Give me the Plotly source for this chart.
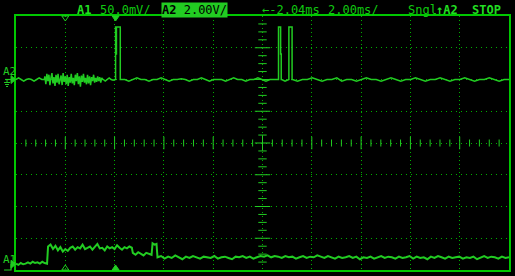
import numpy as np
import plotly.graph_objects as go

# ---------------- scope settings ----------------
TIME_PER_DIV = 2.0          # ms / div
A2_V_PER_DIV = 2.0          # V / div
A1_MV_PER_DIV = 50.0        # mV / div
A2_GROUND_DIV = 2.0
A1_GROUND_DIV = -3.82
N_XDIV, N_YDIV = 10, 8

header_a1 = ["A1", "50.0mV/"]
header_a2 = ["A2", "2.00V/"]
header_time = ["←-2.04ms", "2.00ms/"]
header_state = ["Sngl", "↑A2", "STOP"]
trig_time = -5.96           # ms (filled markers)
cursor_time = -8.0          # ms (hollow markers)

# ---------------- channel A2 (volts) ----------------
a2_pre_span = (-10.0, -8.85)
a2_pre_v = [0, 0.1, 0, -0.1, 0, 0.05, 0, -0.1, 0, 0.1, 0, 0]
a2_burst_span = (-8.83, -6.48)
a2_burst_v = [0.2, -0.3, 0.35, -0.1, 0.3, -0.35, 0.1, 0.4, -0.25, 0.15, -0.4, 0.3,
              -0.2, 0.35, -0.3, 0.05, 0.25, -0.35, 0.4, -0.15, 0.2, -0.3, 0.3, -0.4,
              0.15, -0.2, 0.35, -0.25, 0.1, -0.35, 0.3, -0.1, 0.4, -0.3, 0.2, -0.45,
              0.25, -0.15, 0.35, -0.2, 0.1, -0.3, 0.3, -0.25, 0.2, -0.35, 0.15, -0.1,
              0.3, -0.2, 0.1, -0.15, 0.2, -0.1, 0.15, -0.2, 0.1, 0]
a2_mid_span = (-6.46, -5.98)
a2_mid_v = [0, -0.1, 0, 0.1, 0, -0.05, 0]
a2_p1_t = [-5.96, -5.96, -5.935, -5.935, -5.925, -5.925, -5.77, -5.77]
a2_p1_v = [0, 3.3, 3.3, 1.6, 1.6, 3.3, 3.3, 0]
a2_gap1_span = (-5.75, 0.63)
a2_gap1_v = [0, 0, -0.1, 0, 0.1, 0, 0, -0.1, 0, 0, 0.1, 0, -0.1, 0, 0, 0.05, 0, -0.1,
             0, 0, 0.1, 0, -0.1, 0, 0, 0, -0.1, 0, 0.1, 0, 0, -0.1, 0, 0, 0.1, 0,
             -0.1, 0, 0, 0]
a2_p2_t = [0.65, 0.65, 0.735, 0.735, 0.76, 0.76]
a2_p2_v = [0, 3.3, 3.3, 1.6, 1.6, 0]
a2_gap2_span = (0.78, 1.05)
a2_gap2_v = [0, -0.1, 0]
a2_p3_t = [1.07, 1.07, 1.20, 1.20]
a2_p3_v = [0, 3.3, 3.3, 0]
a2_tail_span = (1.22, 10.0)
a2_tail_v = [0, -0.1, 0, 0, 0.1, 0, -0.1, 0, 0, 0.1, -0.1, 0, 0, -0.1, 0, 0.1, 0, 0,
             -0.1, 0, 0.1, 0, -0.1, 0, 0, 0.1, 0, -0.1, 0, 0, 0.1, 0, -0.1, 0, 0, 0.1,
             0, -0.1, 0, 0, 0.1, 0, -0.1, 0, 0]

# ---------------- channel A1 (mV) ----------------
a1_seg_spans = [(-10.0, -8.74), (-8.70, -5.30), (-5.26, -4.50), (-4.46, -4.30), (-4.26, 10.0)]
a1_seg1 = [1, -1, 2, 0, 1, 3, 1, 4, 2, 3, 1, 4, 2, 1]
a1_seg2 = [28, 31, 24, 29, 22, 27, 20, 24, 21, 26, 28, 23, 27, 25, 31, 24, 26, 28,
           23, 27, 32, 25, 26, 22, 28, 25, 27, 24, 30, 26, 23, 27, 25, 28, 26]
a1_seg3 = [18, 15, 19, 16, 14, 18, 17, 15]
a1_seg4 = [33, 31, 32]
a1_seg5 = [11, 13, 9, 12, 10, 14, 11, 8, 12, 10, 13, 11, 9, 12, 11, 10, 13, 9, 11, 12,
           10, 8, 12, 11, 13, 10, 12, 9, 11, 13, 12, 14, 11, 13, 12, 10, 13, 11, 12, 9,
           11, 13, 10, 12, 11, 14, 12, 10, 13, 11, 9, 12, 10, 11, 13, 10, 12, 8, 11, 10,
           12, 9, 11, 13, 10, 12, 11, 9, 12, 10, 11, 13, 9, 12, 10, 11, 8, 12, 10, 13,
           11, 9, 12, 10, 11, 12, 9, 11, 10, 12, 8, 11, 13, 10, 12, 11, 9, 12, 10, 11]
a1_segs = [a1_seg1, a1_seg2, a1_seg3, a1_seg4, a1_seg5]

# ---------------- colours ----------------
TRACE = "#22cc22"
FRAME = "#00c800"
GRID = "#00b000"
TEXT = "#10c810"
BRIGHT = "#22dd22"
FONT = "DejaVu Sans Mono"

W, H = 515, 276
ML, MR, MT, MB = 16, 4, 16, 6
PW, PH = W - ML - MR, H - MT - MB


def span_t(span, vals):
    return list(np.linspace(span[0], span[1], len(vals)))


# assemble A2
a2_t, a2_v = [], []
for t, v in [(span_t(a2_pre_span, a2_pre_v), a2_pre_v),
             (span_t(a2_burst_span, a2_burst_v), a2_burst_v),
             (span_t(a2_mid_span, a2_mid_v), a2_mid_v),
             (a2_p1_t, a2_p1_v),
             (span_t(a2_gap1_span, a2_gap1_v), a2_gap1_v),
             (a2_p2_t, a2_p2_v),
             (span_t(a2_gap2_span, a2_gap2_v), a2_gap2_v),
             (a2_p3_t, a2_p3_v),
             (span_t(a2_tail_span, a2_tail_v), a2_tail_v)]:
    a2_t += list(t)
    a2_v += list(v)
a2_y = [A2_GROUND_DIV + v / A2_V_PER_DIV for v in a2_v]

a1_t, a1_v = [], []
for span, vals in zip(a1_seg_spans, a1_segs):
    a1_t += span_t(span, vals)
    a1_v += vals
a1_y = [A1_GROUND_DIV + v / A1_MV_PER_DIV for v in a1_v]

XR = [-N_XDIV / 2 * TIME_PER_DIV, N_XDIV / 2 * TIME_PER_DIV]
YR = [-N_YDIV / 2, N_YDIV / 2]

fig = go.Figure()

# centre-axis tick marks
minor_x = [k * TIME_PER_DIV / 5 for k in range(-25, 26) if k % 5 != 0]
major_x = [k * TIME_PER_DIV for k in range(-4, 5) if k != 0]
minor_y = [k / 4 for k in range(-16, 17) if k % 4 != 0]
major_y = [k for k in range(-3, 4) if k != 0]
tick_style = dict(mode="markers", hoverinfo="skip", showlegend=False)


def tick_marker(symbol, size):
    return dict(symbol=symbol, size=size, color=TRACE, line=dict(color=TRACE, width=1))


fig.add_trace(go.Scatter(x=minor_x, y=[0] * len(minor_x), marker=tick_marker("line-ns-open", 5), **tick_style))
fig.add_trace(go.Scatter(x=major_x, y=[0] * len(major_x), marker=tick_marker("line-ns-open", 9), **tick_style))
fig.add_trace(go.Scatter(x=[0] * len(minor_y), y=minor_y, marker=tick_marker("line-ew-open", 6), **tick_style))
fig.add_trace(go.Scatter(x=[0] * len(major_y), y=major_y, marker=tick_marker("line-ew-open", 11), **tick_style))
fig.add_trace(go.Scatter(x=[0], y=[0], marker=tick_marker("cross-thin-open", 11), **tick_style))

fig.add_trace(go.Scatter(x=a2_t, y=a2_y, mode="lines", line=dict(color=TRACE, width=1.5),
                         hoverinfo="skip", showlegend=False, name="A2"))
fig.add_trace(go.Scatter(x=a1_t, y=a1_y, mode="lines", line=dict(color=TRACE, width=2),
                         hoverinfo="skip", showlegend=False, name="A1"))


def px2paper_x(px):
    return (px - ML) / PW


def py2paper_y(py):
    return (H - MB - py) / PH


def t2px(t):
    return ML + (t - XR[0]) / (XR[1] - XR[0]) * PW


def div2py(d):
    return MT + (YR[1] - d) / (YR[1] - YR[0]) * PH


def path(points, close=False):
    s = "M " + " L ".join(f"{px2paper_x(x):.5f},{py2paper_y(y):.5f}" for x, y in points)
    return s + (" Z" if close else "")


shapes = []
# trigger / cursor markers on top and bottom frame
top, bot = MT, H - MB
for t, filled in [(cursor_time, False), (trig_time, True)]:
    x = t2px(t)
    for pts in ([(x - 3.5, top), (x + 3.5, top), (x, top + 5)],
                [(x - 3.5, bot), (x + 3.5, bot), (x, bot - 5)]):
        shapes.append(dict(type="path", xref="paper", yref="paper", path=path(pts, True),
                           line=dict(color=TRACE, width=1),
                           fillcolor=TRACE if filled else "rgba(0,0,0,0)"))

# channel ground markers on the left
ya2 = div2py(A2_GROUND_DIV)
shapes.append(dict(type="path", xref="paper", yref="paper", path=path([(5, ya2), (12, ya2)]), line=dict(color=TRACE, width=1.2)))
shapes.append(dict(type="path", xref="paper", yref="paper", path=path([(11, ya2 - 4), (15.5, ya2), (11, ya2 + 4)], True), line=dict(color=TRACE, width=1), fillcolor=TRACE))
shapes.append(dict(type="path", xref="paper", yref="paper", path=path([(7, ya2), (7, ya2 + 3)]), line=dict(color=TRACE, width=1)))
for dy, hw in [(3, 3), (5, 2), (7, 1)]:
    shapes.append(dict(type="path", xref="paper", yref="paper", path=path([(7 - hw, ya2 + dy), (7 + hw, ya2 + dy)]), line=dict(color=TRACE, width=1)))

ya1 = div2py(A1_GROUND_DIV)
shapes.append(dict(type="path", xref="paper", yref="paper", path=path([(4, bot), (11, bot), (11, ya1), (12, ya1)]), line=dict(color=TRACE, width=1.2)))
shapes.append(dict(type="path", xref="paper", yref="paper", path=path([(11, ya1 - 4), (15.5, ya1), (11, ya1 + 4)], True), line=dict(color=TRACE, width=1), fillcolor=TRACE))

annotations = []


def head(text, x_left, color=TEXT, bold=False, bg=None, size=12):
    annotations.append(dict(
        text=f"<b>{text}</b>" if bold else text, xref="paper", yref="paper",
        x=px2paper_x(x_left), y=py2paper_y(10), xanchor="left", yanchor="middle",
        showarrow=False, font=dict(family=FONT, size=size, color=color),
        bgcolor=bg, borderpad=0))


head(header_a1[0], 76, bold=True, color=BRIGHT)
head(header_a1[1], 99)
head(f"<b>{header_a2[0]}</b> {header_a2[1]}", 162, color="#000000", bg=TRACE)
head(header_time[0], 262)
head(header_time[1], 328)
head(header_state[0], 409)
head(header_state[1], 437, bold=True, color=BRIGHT)
head(header_state[2], 473, bold=True, color=BRIGHT)

for label, yy in [("A2", ya2 - 8), ("A1", ya1 - 5)]:
    annotations.append(dict(text=label, xref="paper", yref="paper", x=px2paper_x(9),
                            y=py2paper_y(yy), xanchor="center", yanchor="middle",
                            showarrow=False, font=dict(family=FONT, size=11, color=TRACE)))

axis_common = dict(showticklabels=False, ticks="", zeroline=False, showgrid=True,
                   gridcolor=GRID, gridwidth=1, showline=True, mirror=True,
                   linecolor=FRAME, linewidth=1.5, fixedrange=True)

fig.update_layout(
    width=W, height=H, margin=dict(l=ML, r=MR, t=MT, b=MB, pad=0),
    paper_bgcolor="#000000", plot_bgcolor="#000000",
    xaxis=dict(range=XR, dtick=TIME_PER_DIV, tick0=0, griddash="1px,3px", **axis_common),
    yaxis=dict(range=YR, dtick=1, tick0=0, griddash="1px,4px", **axis_common),
    shapes=shapes, annotations=annotations, showlegend=False,
)

fig.write_html("out.html")
